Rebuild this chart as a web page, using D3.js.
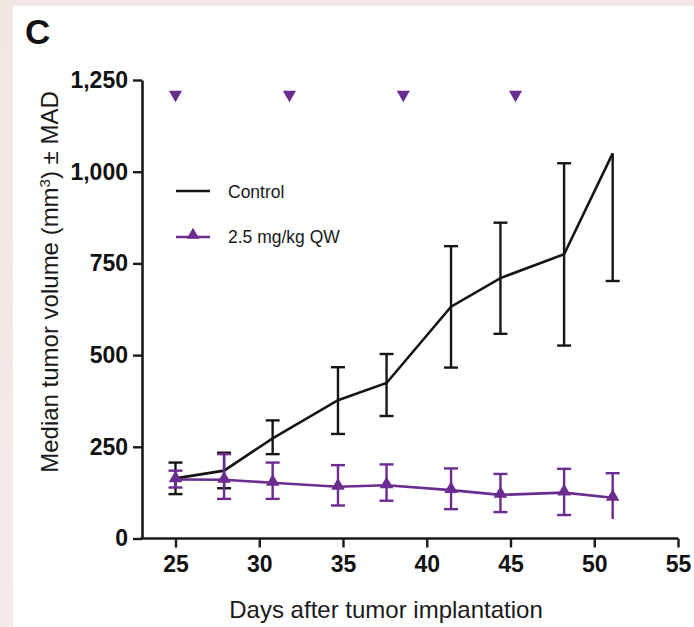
<!DOCTYPE html>
<html>
<head>
<meta charset="utf-8">
<script src="https://cdn.jsdelivr.net/npm/d3@7"></script>
<style>
  html, body { margin: 0; padding: 0; background: #ffffff; }
  svg { display: block; }
  text { font-family: Arial, "Liberation Sans", Helvetica, sans-serif; }
</style>
</head>
<body>
<svg id="chart" width="694" height="627"></svg>
<script>
// ---- data ----
const days = [25, 27.9, 30.8, 34.7, 37.6, 41.45, 44.4, 48.2, 51.1];
const controlMedian = [164, 185, 273, 377, 424, 632, 710, 775, 1050];
const controlUpper  = [207, 234, 322, 467, 503, 797, 861, 1023, null];
const controlLower  = [121, 137, 230, 285, 334, 466, 558, 526, 702];
const treatMedian = [161, 160, 152, 141, 145, 132, 119, 125, 111];
const treatUpper  = [185, 230, 207, 200, 202, 191, 176, 190, 178];
const treatLower  = [139, 108, 108, 90, 103, 80, 72, 64, 53];
const dosingDays = [25, 31.8, 38.6, 45.3];
const dosingLevel = 1210;
const yTicks = [0, 250, 500, 750, 1000, 1250];
const xTicks = [25, 30, 35, 40, 45, 50, 55];
const seriesNames = ["Control", "2.5 mg/kg QW"];

const purple = "#6a2c90";
const black = "#161616";

const svg = d3.select("#chart");

// background (page behind the white panel)
const defs = svg.append("defs");
const grad = defs.append("linearGradient").attr("id", "bg").attr("x1", 0).attr("y1", 0).attr("x2", 0).attr("y2", 1);
grad.append("stop").attr("offset", "0%").attr("stop-color", "#f1e6e2");
grad.append("stop").attr("offset", "100%").attr("stop-color", "#f3ece8");
svg.append("rect").attr("width", 694).attr("height", 627).attr("fill", "url(#bg)");
svg.append("rect").attr("x", 13).attr("y", 6).attr("width", 681).attr("height", 621).attr("fill", "#ffffff");

// panel letter
svg.append("text").attr("x", 25).attr("y", 43.5)
  .attr("font-size", 35).attr("font-weight", "bold").attr("fill", "#111").text("C");

const x = d3.scaleLinear().domain([23, 55]).range([142, 678]);
const y = d3.scaleLinear().domain([0, 1250]).range([538.5, 80]);

// axes
const yAxis = svg.append("g").attr("transform", `translate(${x(23)},0)`)
  .call(d3.axisLeft(y).tickValues(yTicks).tickFormat(d3.format(",")).tickSize(9).tickSizeOuter(0).tickPadding(5));
const xAxis = svg.append("g").attr("transform", `translate(0,${y(0)})`)
  .call(d3.axisBottom(x).tickValues(xTicks).tickSize(9).tickSizeOuter(0).tickPadding(8));
[yAxis, xAxis].forEach(g => {
  g.select(".domain").attr("stroke", "#1a1a1a").attr("stroke-width", 2.6);
  g.selectAll(".tick line").attr("stroke", "#1a1a1a").attr("stroke-width", 2.4);
  g.selectAll(".tick text").attr("font-size", 23).attr("font-weight", "bold").attr("fill", "#111")
    .attr("font-family", "Arial, 'Liberation Sans', sans-serif");
});
xAxis.select(".domain").attr("d", `M${x(23) - 1.3},0H${x(55)}`);

// axis titles
svg.append("text")
  .attr("transform", `translate(58,282) rotate(-90)`)
  .attr("text-anchor", "middle").attr("font-size", 24).attr("fill", "#1a1a1a")
  .html('Median tumor volume (mm<tspan baseline-shift="super" font-size="15">3</tspan>) ± MAD');
svg.append("text")
  .attr("x", 386).attr("y", 618).attr("text-anchor", "middle")
  .attr("font-size", 24).attr("fill", "#1a1a1a").text("Days after tumor implantation");

// dosing markers (down triangles)
const downTri = d3.symbol().type(d3.symbolTriangle).size(75);
svg.append("g").selectAll("path").data(dosingDays).join("path")
  .attr("d", downTri)
  .attr("transform", d => `translate(${x(d)},${y(dosingLevel)}) rotate(180)`)
  .attr("fill", purple);

// error bars helper (caps omitted where the reference shows none)
function errorBars(vals, upper, lower, color, noLowerCap) {
  const g = svg.append("g").attr("stroke", color).attr("stroke-width", 2.4).attr("fill", "none");
  const capW = 7;
  days.forEach((d, i) => {
    const cx = x(d);
    const top = upper[i] != null ? y(upper[i]) : y(vals[i]);
    const bot = lower[i] != null ? y(lower[i]) : y(vals[i]);
    g.append("line").attr("x1", cx).attr("x2", cx).attr("y1", top).attr("y2", bot);
    if (upper[i] != null) g.append("line").attr("x1", cx - capW).attr("x2", cx + capW).attr("y1", top).attr("y2", top);
    if (lower[i] != null && i !== noLowerCap) g.append("line").attr("x1", cx - capW).attr("x2", cx + capW).attr("y1", bot).attr("y2", bot);
  });
}

const line = d3.line().x((d, i) => x(days[i])).y(d => y(d));

// control
errorBars(controlMedian, controlUpper, controlLower, black, -1);
svg.append("path").datum(controlMedian).attr("d", line)
  .attr("fill", "none").attr("stroke", black).attr("stroke-width", 2.6).attr("stroke-linejoin", "miter");

// treatment
errorBars(treatMedian, treatUpper, treatLower, purple, days.length - 1);
svg.append("path").datum(treatMedian).attr("d", line)
  .attr("fill", "none").attr("stroke", purple).attr("stroke-width", 2.6);
const upTri = d3.symbol().type(d3.symbolTriangle).size(80);
svg.append("g").selectAll("path").data(treatMedian).join("path")
  .attr("d", upTri)
  .attr("transform", (d, i) => `translate(${x(days[i])},${y(d) - 1})`)
  .attr("fill", purple);

// legend
const lg = svg.append("g");
lg.append("line").attr("x1", 176).attr("x2", 210).attr("y1", 191).attr("y2", 191)
  .attr("stroke", black).attr("stroke-width", 2.6);
lg.append("text").attr("x", 228).attr("y", 198).attr("font-size", 17.5).attr("fill", "#1a1a1a").text(seriesNames[0]);
lg.append("line").attr("x1", 176).attr("x2", 210).attr("y1", 237).attr("y2", 237)
  .attr("stroke", purple).attr("stroke-width", 2.6);
lg.append("path").attr("d", d3.symbol().type(d3.symbolTriangle).size(70))
  .attr("transform", "translate(193,235)").attr("fill", purple);
lg.append("text").attr("x", 228).attr("y", 243).attr("font-size", 17.5).attr("fill", "#1a1a1a").text(seriesNames[1]);
</script>
</body>
</html>
